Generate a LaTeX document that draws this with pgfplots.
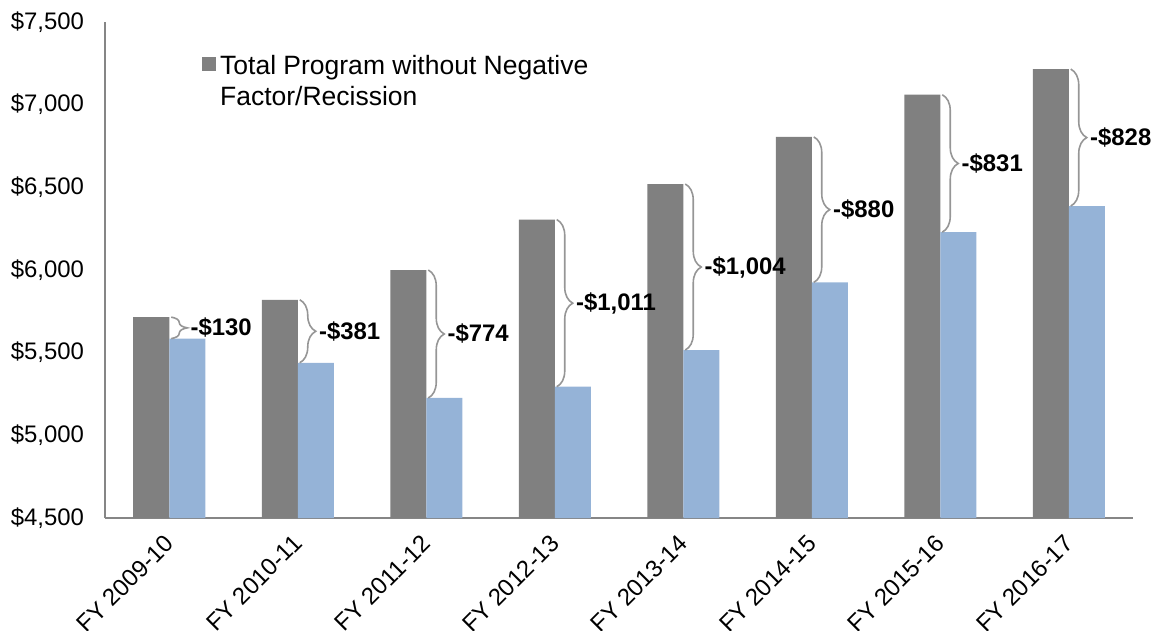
\documentclass[border=0pt]{standalone}
\usepackage{fontspec}
\setmainfont{Liberation Sans}
\usepackage{pgfplots}
\usepackage{pgfplotstable}
\pgfplotsset{compat=1.18}
\usetikzlibrary{decorations.pathreplacing}

\definecolor{bargray}{RGB}{128,128,128}
\definecolor{barblue}{RGB}{149,179,215}
\definecolor{axisgray}{RGB}{134,134,134}
\definecolor{bracegray}{RGB}{150,150,150}

% x, full program, actual program, label
\newcommand\gap[4]{%
  \draw[bracegray, line width=0.8bp, decorate, decoration={brace, amplitude=8bp}]
    ([xshift=1bp]axis cs:#1,#2) -- ([xshift=1bp]axis cs:#1,#3);
  \path ([xshift=1bp]axis cs:#1,#2) -- ([xshift=1bp]axis cs:#1,#3)
    node[midway, anchor=west, xshift=8bp, inner sep=1.5bp, text=black,
         font=\bfseries\fontsize{12}{14}\selectfont] {#4};
}

\pgfplotstableread{
x full actual
0 5715 5585
1 5820 5439
2 6000 5226
3 6305 5294
4 6520 5516
5 6805 5925
6 7060 6229
7 7215 6387
}\budget

\begin{document}
\begin{tikzpicture}
\begin{axis}[
    name=ax,
    clip=false,
    scale only axis,
    width=514bp, height=248bp,
    ybar=0pt, bar width=18bp,
    xmin=-0.5, xmax=7.5,
    ymin=4500, ymax=7500,
    ytick={4500,5000,...,7500},
    xtick=data,
    xticklabels={FY 2009-10, FY 2010-11, FY 2011-12, FY 2012-13,
                 FY 2013-14, FY 2014-15, FY 2015-16, FY 2016-17},
    axis x line*=bottom, axis y line*=left,
    axis line style={axisgray, line width=1bp, -},
    major tick length=0pt,
    tick label style={font=\fontsize{12}{14}\selectfont},
    /pgf/number format/.cd, fixed, 1000 sep={,}, assume math mode=true, /pgfplots/.cd,
    yticklabel={\$\pgfmathprintnumber{\tick}},
    yticklabel style={xshift=-7bp},
    xticklabel style={xshift=-3bp, yshift=-7.5bp, rotate=45, anchor=north east,
                      inner sep=0pt},
    legend style={draw=none, fill=none, at={(0.0883,0.949)}, anchor=north west,
                  font=\fontsize{13.3}{15.5}\selectfont, cells={align=left}},
    legend cell align=left,
    legend image code/.code={\fill[#1] (0bp,5.5bp) rectangle (7bp,12.5bp);},
  ]
  \addplot[fill=bargray, draw=none] table[x=x, y=full] {\budget};
  \addlegendentry{Total Program without Negative\\Factor/Recission}
  \addplot[fill=barblue, draw=none] table[x=x, y=actual] {\budget};

  \gap{0}{5715}{5585}{-\$130}
  \gap{1}{5820}{5439}{-\$381}
  \gap{2}{6000}{5226}{-\$774}
  \gap{3}{6305}{5294}{-\$1,011}
  \gap{4}{6520}{5516}{-\$1,004}
  \gap{5}{6805}{5925}{-\$880}
  \gap{6}{7060}{6229}{-\$831}
  \gap{7}{7215}{6387}{-\$828}
\end{axis}
\pgfresetboundingbox
\useasboundingbox ([xshift=-52.5bp,yshift=-56bp]ax.south west)
  rectangle ([xshift=10bp,yshift=11bp]ax.north east);
\end{tikzpicture}
\end{document}
